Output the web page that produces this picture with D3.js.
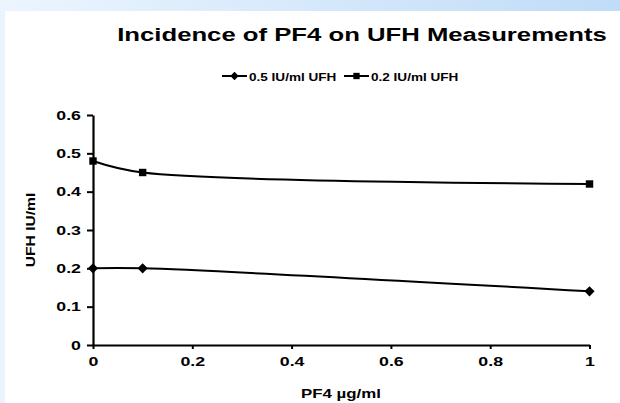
<!DOCTYPE html>
<html><head><meta charset="utf-8">
<script src="https://cdn.jsdelivr.net/npm/d3@7"></script>
<style>body{margin:0;padding:0;}svg{display:block;font-family:"Liberation Sans",Arial,sans-serif;}</style>
</head><body>
<svg id="c" width="620" height="403"></svg>
<script>
const xValues = [0, 0.1, 1];
const series1Name = "0.5 IU/ml UFH";
const series1Values = [0.2, 0.2, 0.14];
const series2Name = "0.2 IU/ml UFH";
const series2Values = [0.48, 0.45, 0.42];
const xTicks = [0, 0.2, 0.4, 0.6, 0.8, 1];
const yTicks = [0, 0.1, 0.2, 0.3, 0.4, 0.5, 0.6];
const titleText = "Incidence of PF4 on UFH Measurements";
const xLabel = "PF4 µg/ml";
const yLabel = "UFH IU/ml";

const svg = d3.select("#c");
const defs = svg.append("defs");
const g1 = defs.append("linearGradient").attr("id","topg").attr("x1","0").attr("x2","1").attr("y1","0").attr("y2","0");
g1.append("stop").attr("offset","0").attr("stop-color","#ecf5fe");
g1.append("stop").attr("offset","1").attr("stop-color","#c0dcf8");
svg.append("rect").attr("x",0).attr("y",0).attr("width",620).attr("height",403).attr("fill","#eaf4fe");
svg.append("rect").attr("x",0).attr("y",0).attr("width",620).attr("height",11).attr("fill","url(#topg)");
svg.append("rect").attr("x",5).attr("y",11).attr("width",615).attr("height",392).attr("fill","#ffffff");

const x = d3.scaleLinear().domain([0,1]).range([93,589.5]);
const y = d3.scaleLinear().domain([0,0.6]).range([345,115]);

// helper: horizontally stretched text
function sText(parent, tx, ty, str, size, sx, anchor, rot) {
  const t = parent.append("text")
    .attr("transform", `translate(${tx},${ty})` + (rot ? ` rotate(${rot})` : "") + ` scale(${sx},1)`)
    .attr("text-anchor", anchor).attr("font-size", size).attr("font-weight","bold").attr("fill","#000").text(str);
  return t;
}

sText(svg, 362, 41, titleText, 18.5, 1.39, "middle");

const xAxis = svg.append("g").attr("transform","translate(0,345)")
  .call(d3.axisBottom(x).tickValues(xTicks).tickFormat(d3.format("")).tickSizeInner(4).tickSizeOuter(0).tickPadding(8));
const yAxis = svg.append("g").attr("transform","translate(93,0)")
  .call(d3.axisLeft(y).tickValues(yTicks).tickFormat(d3.format("")).tickSizeInner(6).tickSizeOuter(0).tickPadding(6));
const tsx = 1.42;
[xAxis,yAxis].forEach(a=>{
  a.selectAll("path").attr("stroke","#000").attr("stroke-width",2.2);
  a.selectAll("line").attr("stroke","#000").attr("stroke-width",2);
  a.selectAll("text").attr("font-size",12.5).attr("font-weight","bold").attr("fill","#000")
    .attr("font-family","Liberation Sans, Arial, sans-serif");
});
xAxis.selectAll("text").attr("transform",`scale(${tsx},1)`).attr("y",12).attr("dy","0.71em");
yAxis.selectAll("text").attr("x",-12/tsx).attr("transform",`scale(${tsx},1)`);

sText(svg, 341, 398, xLabel, 12.5, 1.35, "middle");
sText(svg, 35, 230, yLabel, 12, 1.3, "middle", -90);

const line = d3.line().x(d=>x(d[0])).y(d=>y(d[1])).curve(d3.curveCatmullRom.alpha(0.5));
const s1 = xValues.map((v,i)=>[v,series1Values[i]]);
const s2 = xValues.map((v,i)=>[v,series2Values[i]]);
[s1,s2].forEach(s=>svg.append("path").attr("d",line(s)).attr("fill","none").attr("stroke","#000").attr("stroke-width",2));

const diamond = d3.symbol().type(d3.symbolDiamond2).size(65);
const square = d3.symbol().type(d3.symbolSquare).size(55);
svg.selectAll(".m1").data(s1).enter().append("path").attr("d",diamond)
  .attr("transform",d=>`translate(${x(d[0])},${y(d[1])})`).attr("fill","#000");
svg.selectAll(".m2").data(s2).enter().append("path").attr("d",square)
  .attr("transform",d=>`translate(${x(d[0])},${y(d[1])})`).attr("fill","#000");

// legend
const leg = svg.append("g");
const items = [{n:series1Name, sym:d3.symbol().type(d3.symbolDiamond2).size(45), x0:222, tx:249},
               {n:series2Name, sym:d3.symbol().type(d3.symbolSquare).size(40), x0:344, tx:371}];
items.forEach(it=>{
  leg.append("line").attr("x1",it.x0).attr("x2",it.x0+25).attr("y1",76).attr("y2",76).attr("stroke","#000").attr("stroke-width",2);
  leg.append("path").attr("d",it.sym()).attr("transform",`translate(${it.x0+12.5},76)`).attr("fill","#000");
  sText(leg, it.tx, 80.5, it.n, 11.5, 1.18, "start");
});
</script>
</body></html>
